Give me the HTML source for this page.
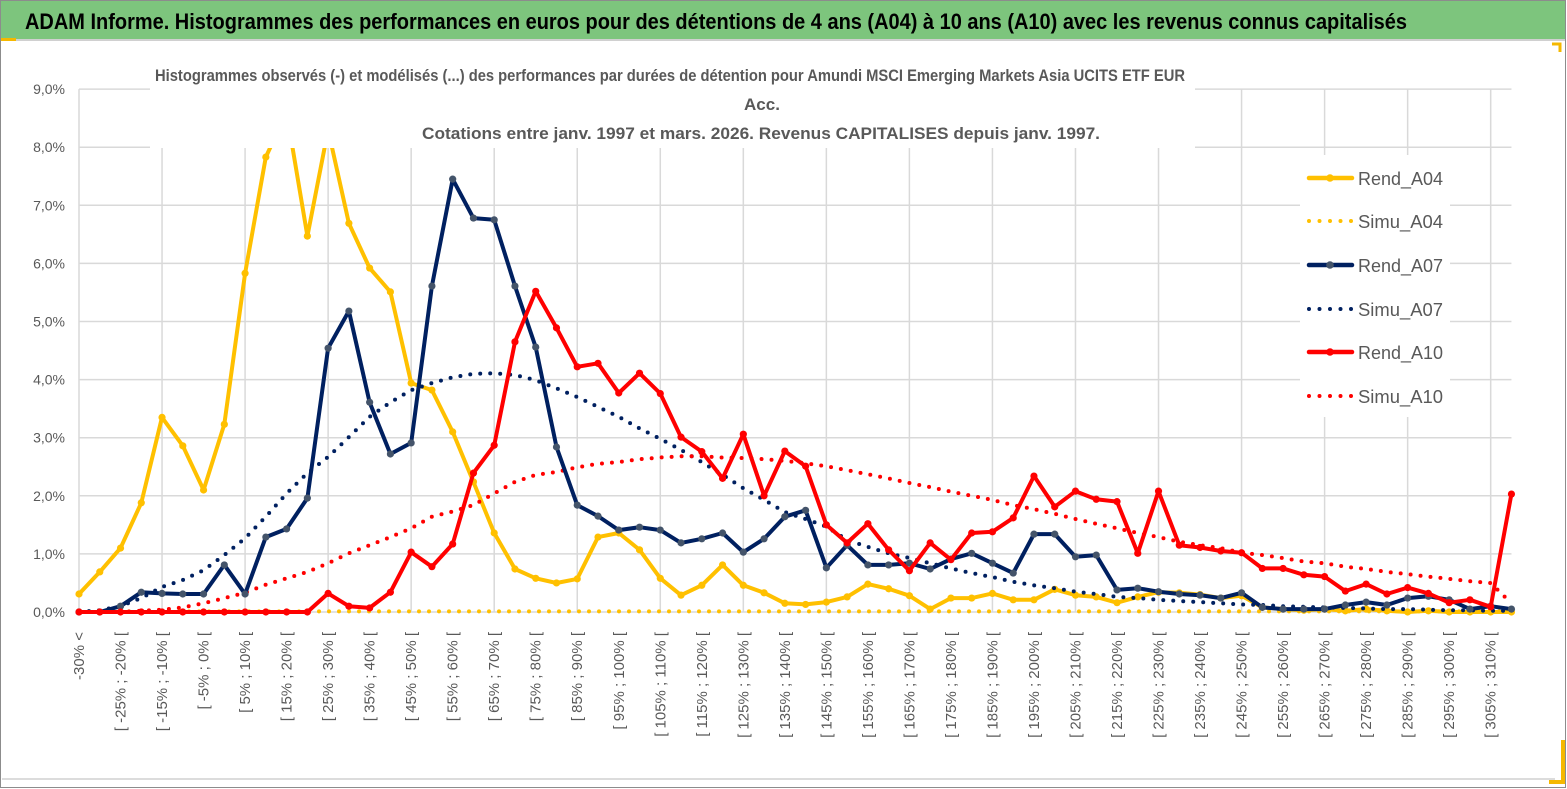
<!DOCTYPE html>
<html><head><meta charset="utf-8">
<style>
html,body{margin:0;padding:0;background:#fff;}
body{width:1567px;height:789px;overflow:hidden;font-family:"Liberation Sans",sans-serif;}
svg{display:block;}
</style></head>
<body>
<svg id="chart" width="1567" height="789" viewBox="0 0 1567 789" xmlns="http://www.w3.org/2000/svg">
  <rect x="0" y="0" width="1567" height="789" fill="#fff"/>
  <rect x="0.5" y="0.5" width="1565" height="787" fill="none" stroke="#8c8c8c" stroke-width="1"/>
  <rect x="1" y="1" width="1564" height="38" fill="#7dc57d"/>
  <line x1="1" y1="40" x2="1565" y2="40" stroke="#d0d0d0" stroke-width="2"/>
  <rect x="1" y="38" width="15" height="3" fill="#f5b800"/>
  <text x="25" y="29" font-size="22" font-weight="bold" fill="#000" textLength="1382" lengthAdjust="spacingAndGlyphs">ADAM Informe. Histogrammes des performances en euros pour des détentions de 4 ans (A04) à 10 ans (A10) avec les revenus connus capitalisés</text>
  <line x1="2" y1="779" x2="1555" y2="779" stroke="#dcdcdc" stroke-width="2"/>
  <path d="M1552 44 L1560 44 L1560 52" fill="none" stroke="#f5b800" stroke-width="3"/>
  <path d="M1549 782 L1563 782 L1563 740" fill="none" stroke="#f5b800" stroke-width="4"/>
  <g id="grid"></g>
  <g id="series"></g>
  <g id="xlabels"></g>
  <g id="ylabels"></g>
  <g id="overlay">
    <rect x="150" y="58" width="1045" height="90" fill="#fff"/>
    <text x="155" y="81" font-size="17" font-weight="bold" fill="#595959" textLength="1030" lengthAdjust="spacingAndGlyphs">Histogrammes observés (-)  et modélisés (...)  des performances par durées de détention pour Amundi MSCI Emerging Markets Asia UCITS ETF EUR</text>
    <text x="762" y="110" font-size="17" font-weight="bold" fill="#595959" text-anchor="middle">Acc.</text>
    <text x="422" y="139" font-size="17" font-weight="bold" fill="#595959" textLength="678" lengthAdjust="spacingAndGlyphs">Cotations entre janv. 1997 et mars. 2026. Revenus CAPITALISES depuis janv. 1997.</text>
    <rect x="1300" y="155" width="150" height="262" fill="#fff"/>
  </g>
  <g id="legend"></g>
</svg>
<script>
const categories = [];
categories.push("-30% <");
for (let i = 1; i < 70; i++) { const lo = -35 + 5 * i; categories.push("[ " + lo + "% ; " + (lo + 5) + "% ["); }
const yTicks = [0,1,2,3,4,5,6,7,8,9];
const yTickLabels = ["0,0%","1,0%","2,0%","3,0%","4,0%","5,0%","6,0%","7,0%","8,0%","9,0%"];
const rendA04 = [0.31,0.69,1.10,1.88,3.35,2.86,2.10,3.23,5.83,7.83,8.6,6.47,8.3,6.69,5.92,5.51,3.94,3.82,3.10,2.24,1.36,0.74,0.58,0.50,0.57,1.29,1.36,1.07,0.58,0.29,0.46,0.81,0.46,0.33,0.15,0.13,0.17,0.26,0.48,0.40,0.28,0.05,0.24,0.24,0.32,0.21,0.21,0.39,0.29,0.26,0.16,0.26,0.34,0.33,0.30,0.24,0.28,0.08,0.05,0.03,0.05,0.02,0.05,0.02,0.0,0.02,0.0,0.0,0.0,0.0];
const rendA07 = [0.0,0.0,0.10,0.34,0.32,0.31,0.31,0.81,0.31,1.29,1.43,1.96,4.54,5.18,3.61,2.72,2.91,5.61,7.45,6.78,6.75,5.61,4.56,2.84,1.84,1.65,1.41,1.46,1.41,1.19,1.26,1.36,1.03,1.26,1.64,1.75,0.76,1.15,0.81,0.81,0.84,0.74,0.91,1.01,0.84,0.67,1.34,1.34,0.95,0.98,0.38,0.41,0.35,0.31,0.29,0.24,0.33,0.08,0.05,0.05,0.05,0.12,0.17,0.12,0.24,0.27,0.21,0.05,0.10,0.05];
const rendA10 = [0,0,0,0,0,0,0,0,0,0,0,0,0.32,0.10,0.07,0.34,1.03,0.78,1.17,2.39,2.87,4.65,5.52,4.89,4.22,4.28,3.77,4.11,3.76,3.01,2.76,2.30,3.06,2.00,2.77,2.51,1.50,1.19,1.52,1.07,0.71,1.19,0.90,1.36,1.38,1.62,2.34,1.81,2.08,1.94,1.90,1.01,2.08,1.15,1.11,1.05,1.02,0.75,0.75,0.64,0.61,0.36,0.48,0.31,0.42,0.32,0.16,0.21,0.09,2.03];
const simuA04 = [0.01,0.01,0.01,0.01,0.01,0.01,0.01,0.01,0.01,0.01,0.01,0.01,0.01,0.01,0.01,0.01,0.01,0.01,0.01,0.01,0.01,0.01,0.01,0.01,0.01,0.01,0.01,0.01,0.01,0.01,0.01,0.01,0.01,0.01,0.01,0.01,0.01,0.01,0.01,0.01,0.01,0.01,0.01,0.01,0.01,0.01,0.01,0.01,0.01,0.01,0.01,0.01,0.01,0.01,0.01,0.01,0.01,0.01,0.01,0.01,0.01,0.01,0.01,0.01,0.01,0.01,0.01,0.01,0.01,0.01];
const simuA07 = [0.0,0.03,0.10,0.24,0.43,0.55,0.72,0.98,1.27,1.64,2.04,2.39,2.67,3.01,3.36,3.61,3.82,3.94,4.04,4.10,4.11,4.08,3.99,3.85,3.70,3.53,3.36,3.16,2.98,2.79,2.58,2.36,2.13,1.93,1.72,1.60,1.47,1.24,1.12,1.01,0.93,0.84,0.75,0.67,0.60,0.52,0.46,0.41,0.35,0.31,0.26,0.24,0.21,0.19,0.17,0.15,0.13,0.12,0.10,0.09,0.08,0.07,0.06,0.05,0.05,0.04,0.03,0.03,0.02,0.02];
const simuA10 = [0,0,0,0.02,0.04,0.08,0.15,0.24,0.33,0.47,0.58,0.69,0.84,1.01,1.15,1.29,1.44,1.64,1.73,1.84,2.04,2.24,2.36,2.41,2.49,2.55,2.58,2.63,2.66,2.68,2.68,2.66,2.65,2.63,2.60,2.56,2.51,2.44,2.37,2.30,2.22,2.15,2.07,2.00,1.93,1.84,1.77,1.69,1.60,1.52,1.44,1.36,1.29,1.21,1.15,1.10,1.02,0.98,0.93,0.87,0.84,0.78,0.74,0.69,0.65,0.61,0.57,0.53,0.50,0.15];
const seriesNames = ["Rend_A04","Simu_A04","Rend_A07","Simu_A07","Rend_A10","Simu_A10"];

const NS = "http://www.w3.org/2000/svg";
const X0 = 79, DX = 20.76, Y0 = 612, DY = 58.1;
function xPos(i){ return X0 + i * DX; }
function yPos(v){ return Y0 - v * DY; }
function mk(tag, attrs, parent){ const e = document.createElementNS(NS, tag); for (const k in attrs) e.setAttribute(k, attrs[k]); parent.appendChild(e); return e; }

const grid = document.getElementById("grid");
const xRight = xPos(categories.length - 1);
yTicks.forEach(function(t){
  const l = mk("line", {x1: X0, x2: xRight, y1: yPos(t), y2: yPos(t), stroke: "#d9d9d9", "stroke-width": 1.5}, grid);
  
  
});
for (let i = 0; i < categories.length; i += 4) {
  const l = mk("line", {x1: xPos(i), x2: xPos(i), y1: yPos(9), y2: Y0, stroke: "#d9d9d9", "stroke-width": 1.5}, grid);
  
  
}

const ylab = document.getElementById("ylabels");
yTicks.forEach(function(t, k){
  const tx = mk("text", {x: 65, y: yPos(t) + 5, "font-size": 14, fill: "#595959", "text-anchor": "end"}, ylab);
  tx.textContent = yTickLabels[k];
  
  
});

const xlab = document.getElementById("xlabels");
for (let i = 0; i < categories.length; i += 2) {
  const x = xPos(i) + 5, y = 632;
  const tx = mk("text", {x: x, y: y, "font-size": 15, "font-weight": 500, fill: "#595959", "text-anchor": "end", transform: "rotate(-90 " + x + " " + y + ")"}, xlab);
  tx.textContent = categories[i];
  
  
}

const sg = document.getElementById("series");
function dotted(vals, color, name){
  const g = mk("g", {}, sg);
  
  
  const d = vals.map(function(v, i){ return (i ? "L" : "M") + xPos(i).toFixed(1) + " " + yPos(v).toFixed(1); }).join(" ");
  mk("path", {d: d, fill: "none", stroke: color, "stroke-width": 4, "stroke-linecap": "round", "stroke-dasharray": "0 10"}, g);
}
function solid(vals, color, mcolor, name){
  const g = mk("g", {}, sg);
  
  
  const d = vals.map(function(v, i){ return (i ? "L" : "M") + xPos(i).toFixed(1) + " " + yPos(v).toFixed(1); }).join(" ");
  mk("path", {d: d, fill: "none", stroke: color, "stroke-width": 4, "stroke-linejoin": "round"}, g);
  vals.forEach(function(v, i){
    const c = mk("circle", {cx: xPos(i), cy: yPos(v), r: 3.6, fill: mcolor}, g);
    
    
  });
}
solid(rendA04, "#ffc000", "#ffc000", "series-rend-a04");
dotted(simuA04, "#ffc000", "series-simu-a04");
dotted(simuA07, "#002060", "series-simu-a07");
dotted(simuA10, "#ff0000", "series-simu-a10");
solid(rendA07, "#002060", "#44546a", "series-rend-a07");
solid(rendA10, "#ff0000", "#ff0000", "series-rend-a10");

const lg = document.getElementById("legend");
const legColors = ["#ffc000","#ffc000","#002060","#002060","#ff0000","#ff0000"];
const legMarker = ["#ffc000",null,"#44546a",null,"#ff0000",null];
const legY = [178,221,265,309,352,396];
seriesNames.forEach(function(n, k){
  const g = mk("g", {}, lg);
  
  
  const y = legY[k];
  if (legMarker[k]) {
    mk("line", {x1: 1309, x2: 1352, y1: y, y2: y, stroke: legColors[k], "stroke-width": 4.5, "stroke-linecap": "round"}, g);
    mk("circle", {cx: 1330, cy: y, r: 3.8, fill: legMarker[k]}, g);
  } else {
    mk("path", {d: "M1309 " + y + " L1352 " + y, stroke: legColors[k], "stroke-width": 4, "stroke-linecap": "round", "stroke-dasharray": "0 10.5"}, g);
  }
  const t = mk("text", {x: 1358, y: y + 7, "font-size": 18, "font-weight": 500, fill: "#595959", textLength: 85, lengthAdjust: "spacingAndGlyphs"}, g);
  t.textContent = n;
});
</script>
</body></html>
